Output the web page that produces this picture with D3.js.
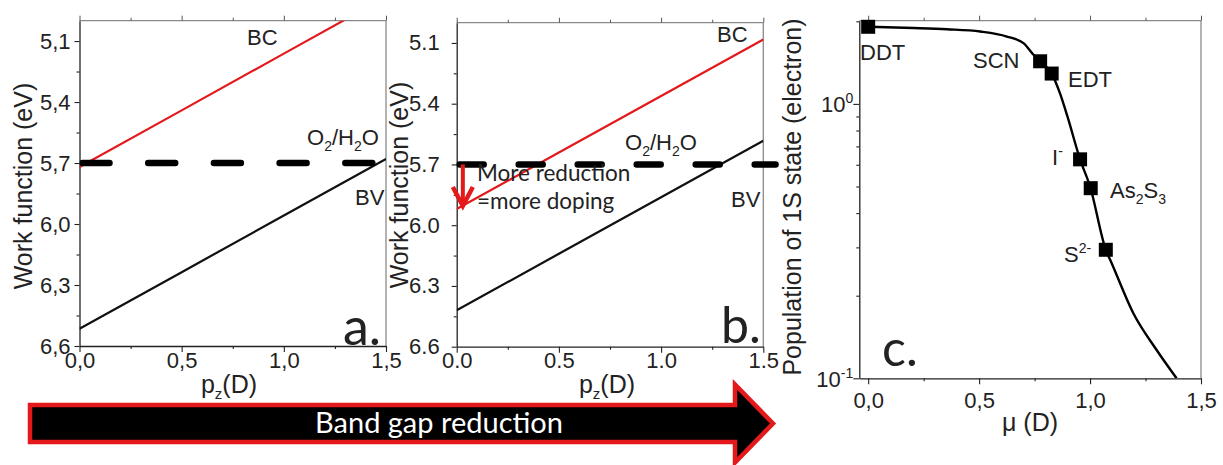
<!DOCTYPE html>
<html><head><meta charset="utf-8">
<script src="https://cdn.jsdelivr.net/npm/d3@7"></script>
<style>
body{margin:0;background:#fff}
svg{display:block}
text{font-family:"Liberation Sans",Arial,sans-serif;fill:#222}
.cal{font-family:Lato,"Open Sans",sans-serif}
</style>
</head><body>
<svg id="fig" width="1223" height="465"></svg>
<script>
// ---------- data ----------
const pzA = [0, 0.5, 1.0, 1.5];
const bcA = [5.72, 5.441, 5.162, 4.883];
const bvA = [6.515, 6.237, 5.958, 5.68];
const pzB = [0, 0.5, 1.0, 1.5];
const bcB = [5.92, 5.641, 5.362, 5.083];
const bvB = [6.42, 6.141, 5.862, 5.583];
const redoxAx = [0, 1.5];
const redoxBx = [0, 1.56];
const redoxLevel = 5.7;
const shiftArrowX = 0.03;
const shiftArrowY = [5.7, 5.91];
const wfMajor = [5.1, 5.4, 5.7, 6.0, 6.3, 6.6];
const wfMinor = [5.25, 5.55, 5.85, 6.15, 6.45];
const pMajor = [0, 0.5, 1.0, 1.5];
const pMinor = [0.25, 0.75, 1.25];
const ligands = ["DDT", "SCN", "EDT", "I", "As2S3", "S2-"];
const ligandMu = [0.0, 0.775, 0.827, 0.955, 1.003, 1.071];
const ligandPop = [1.91, 1.43, 1.29, 0.628, 0.493, 0.294];
const fitMu  = [0, 0.204, 0.355, 0.505, 0.625, 0.700, 0.745, 0.775, 0.827, 0.865, 0.898, 0.955, 1.0, 1.071, 1.098, 1.195, 1.300, 1.39];
const fitPop = [1.91, 1.89, 1.87, 1.835, 1.76, 1.665, 1.51, 1.43, 1.29, 1.09, 0.90, 0.628, 0.50, 0.294, 0.262, 0.1726, 0.1268, 0.1];
const popMajor = [0.1, 1];
const popMinor = [0.2, 0.3, 0.4, 0.5, 0.6, 0.7, 0.8, 0.9, 2];

const svg = d3.select("#fig");
const RED = "#e3191c";
const comma = v => d3.format(".1f")(v).replace(".", ",");
const dot = v => d3.format(".1f")(v);

function frame(g, x, y, id, opt) {
  const [x0, x1] = x.range(), [y0, y1] = y.range();
  g.append("clipPath").attr("id", id).append("rect")
    .attr("x", x0).attr("y", y1).attr("width", x1 - x0).attr("height", y0 - y1);
  g.append("line").attr("x1", x0).attr("x2", x1).attr("y1", y1).attr("y2", y1).attr("stroke", "#8a8a8a").attr("stroke-width", 1.3);
  g.append("line").attr("x1", x1).attr("x2", x1).attr("y1", y1).attr("y2", y0).attr("stroke", "#8a8a8a").attr("stroke-width", 1.3);
  const tTop = g.append("g").attr("transform", `translate(0,${y1})`)
    .call(d3.axisTop(x).tickValues(opt.xMajor).tickSize(5).tickSizeOuter(0).tickFormat(""));
  const tTop2 = g.append("g").attr("transform", `translate(0,${y1})`)
    .call(d3.axisTop(x).tickValues(opt.xMinor).tickSize(3).tickSizeOuter(0).tickFormat(""));
  [tTop, tTop2].forEach(s => { s.select(".domain").remove(); s.selectAll("line").attr("stroke", "#555"); });
  const bx = g.append("g").attr("transform", `translate(0,${y0})`)
    .call(d3.axisBottom(x).tickValues(opt.xMajor).tickSize(6).tickSizeOuter(0).tickPadding(opt.xPad).tickFormat(opt.fmt));
  const bx2 = g.append("g").attr("transform", `translate(0,${y0})`)
    .call(d3.axisBottom(x).tickValues(opt.xMinor).tickSize(3).tickSizeOuter(0).tickFormat(""));
  bx2.select(".domain").remove();
  const ly = g.append("g").attr("transform", `translate(${x0},0)`)
    .call(opt.yAxis(d3.axisLeft(y)).tickSizeOuter(0));
  const ly2 = g.append("g").attr("transform", `translate(${x0},0)`)
    .call(d3.axisLeft(y).tickValues(opt.yMinor).tickSize(3).tickSizeOuter(0).tickFormat(""));
  ly2.select(".domain").remove();
  [bx, bx2, ly, ly2].forEach(s => {
    s.selectAll("line").attr("stroke", "#222").attr("stroke-width", 1.1);
    s.select(".domain").attr("stroke", "#222").attr("stroke-width", 1.3);
    s.selectAll("text").attr("font-size", 22).attr("font-family", "Liberation Sans, Arial, sans-serif").attr("fill", "#333");
  });
  return { bx, ly };
}

function pLabel(g, cx, base) {
  const t = g.append("text").attr("x", cx).attr("y", base).attr("text-anchor", "middle").attr("font-size", 25);
  t.append("tspan").text("p");
  t.append("tspan").attr("font-size", 15).attr("dy", 6).text("z");
  t.append("tspan").attr("dy", -6).text("(D)");
}
function yLabel(g, x, y, txt) {
  g.append("text").attr("transform", `translate(${x},${y}) rotate(-90)`).attr("text-anchor", "middle").attr("font-size", 25).text(txt);
}
// parts: [text, dy, small]
function richText(g, tx, ty, size, parts) {
  const t = g.append("text").attr("x", tx).attr("y", ty).attr("font-size", size);
  parts.forEach(p => {
    const s = t.append("tspan").text(p[0]).attr("dy", p[1] || 0);
    if (p[2]) s.attr("font-size", 14);
  });
  return t;
}
function redoxText(g, x, y) {
  richText(g, x, y, 22, [["O"], ["2", 6, 1], ["/H", -6], ["2", 6, 1], ["O", -6]]);
}

// ---------- Panel a ----------
{
  const g = svg.append("g");
  const x = d3.scaleLinear().domain([0, 1.5]).range([79.5, 386]);
  const y = d3.scaleLinear().domain([6.6, 5.0]).range([346, 20.7]);
  frame(g, x, y, "clipA", {
    xMajor: pMajor, xMinor: pMinor, fmt: comma, xPad: 0, yMinor: wfMinor,
    yAxis: a => a.tickValues(wfMajor).tickSize(5).tickPadding(4).tickFormat(comma)
  });
  const line = d3.line().x(d => x(d[0])).y(d => y(d[1]));
  const pl = g.append("g").attr("clip-path", "url(#clipA)");
  pl.append("path").attr("d", line(pzA.map((v, i) => [v, bcA[i]]))).attr("fill", "none").attr("stroke", RED).attr("stroke-width", 2.2);
  pl.append("path").attr("d", line(pzA.map((v, i) => [v, bvA[i]]))).attr("fill", "none").attr("stroke", "#111").attr("stroke-width", 2.2);
  g.append("path").attr("d", line(redoxAx.map(v => [v, redoxLevel])))
    .attr("stroke", "#000").attr("stroke-width", 6.5).attr("stroke-linecap", "round")
    .attr("stroke-dasharray", "27 38.7").attr("stroke-dashoffset", -3).attr("fill", "none")
    .attr("clip-path", "url(#clipA)");
  g.append("text").attr("x", 247).attr("y", 45).attr("font-size", 22).text("BC");
  redoxText(g, 307, 145);
  g.append("text").attr("x", 355).attr("y", 205).attr("font-size", 22).text("BV");
  g.append("text").attr("class", "cal").attr("x", 343).attr("y", 345).attr("font-size", 52).attr("fill", "#111").text("a.");
  yLabel(g, 32, 186, "Work function (eV)");
  pLabel(g, 229, 393);
}

// ---------- Panel b ----------
{
  const g = svg.append("g");
  const x = d3.scaleLinear().domain([0, 1.5]).range([456.7, 763.3]);
  const y = d3.scaleLinear().domain([6.6, 5.0]).range([346.7, 22.7]);
  frame(g, x, y, "clipB", {
    xMajor: pMajor, xMinor: pMinor, fmt: dot, xPad: 0, yMinor: wfMinor,
    yAxis: a => a.tickValues(wfMajor).tickSize(5).tickPadding(12).tickFormat(dot)
  });
  const line = d3.line().x(d => x(d[0])).y(d => y(d[1]));
  const pl = g.append("g").attr("clip-path", "url(#clipB)");
  pl.append("path").attr("d", line(pzB.map((v, i) => [v, bcB[i]]))).attr("fill", "none").attr("stroke", RED).attr("stroke-width", 2.2);
  pl.append("path").attr("d", line(pzB.map((v, i) => [v, bvB[i]]))).attr("fill", "none").attr("stroke", "#111").attr("stroke-width", 2.2);
  g.append("path").attr("d", line(redoxBx.map(v => [v, redoxLevel])))
    .attr("stroke", "#000").attr("stroke-width", 6.5).attr("stroke-linecap", "round")
    .attr("stroke-dasharray", "24 35").attr("stroke-dashoffset", -3).attr("fill", "none");
  const ax = x(shiftArrowX), ay0 = y(shiftArrowY[0]), ay1 = y(shiftArrowY[1]);
  g.append("line").attr("x1", ax).attr("x2", ax).attr("y1", ay0).attr("y2", ay1 - 3).attr("stroke", RED).attr("stroke-width", 4);
  g.append("path").attr("d", `M${ax - 10},${ay1 - 20} L${ax},${ay1 - 1} L${ax + 10},${ay1 - 20}`)
    .attr("fill", "none").attr("stroke", RED).attr("stroke-width", 4.5).attr("stroke-linejoin", "miter");
  g.append("text").attr("class", "cal").attr("x", 477).attr("y", 181).attr("font-size", 22.5).attr("fill", "#111").text("More reduction");
  g.append("text").attr("class", "cal").attr("x", 477).attr("y", 209).attr("font-size", 22.5).attr("fill", "#111").text("=more doping");
  g.append("text").attr("x", 717).attr("y", 42).attr("font-size", 22).text("BC");
  redoxText(g, 625, 150);
  g.append("text").attr("x", 731).attr("y", 207).attr("font-size", 22).text("BV");
  g.append("text").attr("class", "cal").attr("x", 721).attr("y", 343).attr("font-size", 50).attr("fill", "#111").text("b.");
  yLabel(g, 408, 185, "Work function (eV)");
  pLabel(g, 607, 393);
}

// ---------- Band gap arrow ----------
{
  const g = svg.append("g");
  g.append("path").attr("d", "M30,405 L735,405 L735,384.5 L773,423.5 L735,462.5 L735,442 L30,442 Z")
    .attr("fill", "#000").attr("stroke", RED).attr("stroke-width", 4.5).attr("stroke-linejoin", "miter");
  g.append("text").attr("class", "cal").attr("x", 439).attr("y", 433).attr("text-anchor", "middle")
    .attr("font-size", 29).style("fill", "#fff").text("Band gap reduction");
}

// ---------- Panel c ----------
{
  const g = svg.append("g");
  const x = d3.scaleLinear().domain([-0.04, 1.5]).range([859.3, 1201]);
  const y = d3.scaleLog().domain([0.1, 2.01]).range([378.3, 20.7]);
  const { ly } = frame(g, x, y, "clipC", {
    xMajor: pMajor, xMinor: pMinor, fmt: comma, xPad: 8, yMinor: popMinor,
    yAxis: a => a.tickValues(popMajor).tickSize(6).tickPadding(3).tickFormat("")
  });
  ly.selectAll(".tick").each(function (d) {
    const t = d3.select(this).append("text").attr("x", -6).attr("dy", "0.35em").attr("text-anchor", "end")
      .attr("font-size", 22).attr("fill", "#333");
    t.append("tspan").text("10");
    t.append("tspan").attr("font-size", 14).attr("dy", -9).text(String(Math.round(Math.log10(d))));
  });
  const line = d3.line().x((d, i) => x(fitMu[i])).y((d, i) => y(fitPop[i])).curve(d3.curveMonotoneX);
  g.append("g").attr("clip-path", "url(#clipC)").append("path").attr("d", line(fitMu))
    .attr("fill", "none").attr("stroke", "#000").attr("stroke-width", 2.4);
  g.selectAll("rect.pt").data(ligands).enter().append("rect").attr("class", "pt")
    .attr("x", (d, i) => x(ligandMu[i]) - 7).attr("y", (d, i) => y(ligandPop[i]) - 7)
    .attr("width", 14).attr("height", 14).attr("fill", "#000");
  richText(g, 860, 60, 22, [["DDT"]]);
  richText(g, 973, 68, 22, [["SCN"]]);
  richText(g, 1068, 87, 22, [["EDT"]]);
  richText(g, 1052, 165, 22, [["I"], ["-", -9, 1]]);
  richText(g, 1110, 198, 22, [["As"], ["2", 6, 1], ["S", -6], ["3", 6, 1]]);
  richText(g, 1064, 262, 22, [["S"], ["2-", -9, 1]]);
  g.append("text").attr("class", "cal").attr("x", 882).attr("y", 366).attr("font-size", 50).attr("fill", "#111").text("c.");
  yLabel(g, 801, 197, "Population of 1S state (electron)");
  g.append("text").attr("x", 1030).attr("y", 431).attr("text-anchor", "middle").attr("font-size", 25).text("μ (D)");
}
</script>
</body></html>
